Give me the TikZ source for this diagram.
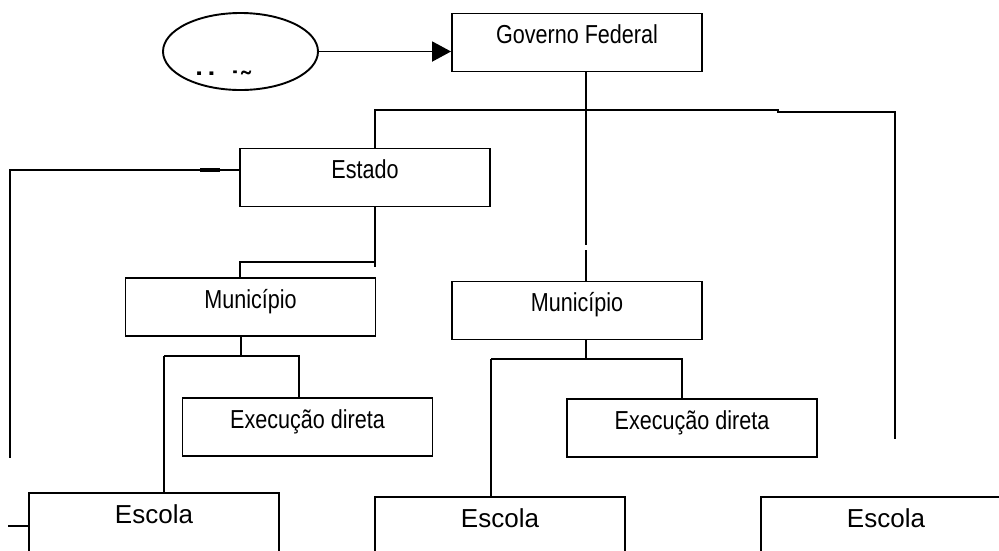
\documentclass[tikz,border=0pt]{standalone}
\usepackage{fontspec}
\setmainfont{Liberation Sans}
\newfontfamily\narrowfont[FakeStretch=0.83]{Liberation Sans}
\usetikzlibrary{arrows.meta,shapes.geometric}
\tikzset{
  conn/.style={line width=1.9pt, line cap=butt},
  box/.style={draw, line width=1.9pt, minimum width=250pt, minimum height=58pt,
    inner sep=0pt, text height=19pt, text depth=17pt,
    font=\narrowfont\fontsize{26}{30}\selectfont},
  escbox/.style={draw, line width=1.9pt, minimum width=250pt, minimum height=80pt,
    inner sep=0pt, text height=19pt, text depth=39pt,
    font=\fontsize{26}{30}\selectfont},
  oval/.style={draw, ellipse, line width=1.9pt, minimum width=155pt, minimum height=77pt, inner sep=0pt},
}
\begin{document}
\begin{tikzpicture}[x=1pt,y=-1pt]
\clip (0,0) rectangle (999,550);
\fill[white] (0,0) rectangle (999,550);
% boxes
\node[box] (gov) at (577,42.5) {Governo Federal};
\node[box] (est) at (365,177.5) {Estado};
\node[box] (mun1) at (250.5,307) {Município};
\node[box] (mun2) at (577,310.5) {Município};
\node[box] (exe1) at (307.5,427) {Execução direta};
\node[box] (exe2) at (692,428) {Execução direta};
\node[escbox] (esc1) at (154,533) {Escola};
\node[escbox] (esc2) at (500,537) {Escola};
\node[escbox] (esc3) at (886,537) {Escola};
% ellipse with clipped label
\node[oval] (uni) at (240.5,51.5) {};
\begin{scope}
\clip (160,0) rectangle (320,74);
\node[anchor=base, inner sep=0pt, font=\bfseries\fontsize{27}{30}\selectfont] (unitxt) at (233,90.5) {União};
\end{scope}
\draw[conn, -{Triangle[length=19pt,width=20pt]}] (uni.east) -- (uni.east -| gov.west);
% coordinates
\coordinate (g1) at (586,245);
\coordinate (g2) at (586,250);
\coordinate (b1) at (375,110);
\coordinate (b2) at (778,110);
\coordinate (b3) at (778,112);
\coordinate (b4) at (895,112);
\coordinate (b5) at (895,439);
\coordinate (l1) at (10,170);
\coordinate (l2) at (10,458);
\coordinate (t1) at (200,170);
\coordinate (t2) at (220,170);
\coordinate (e1) at (375,267);
\coordinate (e2) at (375,262);
\coordinate (e3) at (240,262);
\coordinate (m1) at (241,356);
\coordinate (m2) at (164,356);
\coordinate (m3) at (299,356);
\coordinate (n1) at (586,359);
\coordinate (n2) at (491,359);
\coordinate (n3) at (682,359);
\coordinate (s1) at (8,526);
% connectors
\draw[conn] (gov.south -| g1) -- (g1);
\draw[conn] (g2) -- (g2 |- mun2.north);
\draw[conn] (est.north -| b1) -- (b1) -- (b2) -- (b3) -- (b4) -- (b5);
\draw[conn] (est.west |- l1) -- (l1) -- (l2);
\draw[line width=3.6pt] (t1) -- (t2);
\draw[conn] (est.south -| e1) -- (e1);
\draw[conn] (e2) -- (e3) -- (e3 |- mun1.north);
\draw[conn] (mun1.south -| m1) -- (m1);
\draw[conn] (m2) -- (m3) -- (m3 |- exe1.north);
\draw[conn] (m2) -- (m2 |- esc1.north);
\draw[conn] (mun2.south -| n1) -- (n1);
\draw[conn] (n2) -- (n3) -- (n3 |- exe2.north);
\draw[conn] (n2) -- (n2 |- esc2.north);
\draw[conn] (s1) -- (s1 -| esc1.west);
\end{tikzpicture}
\end{document}
